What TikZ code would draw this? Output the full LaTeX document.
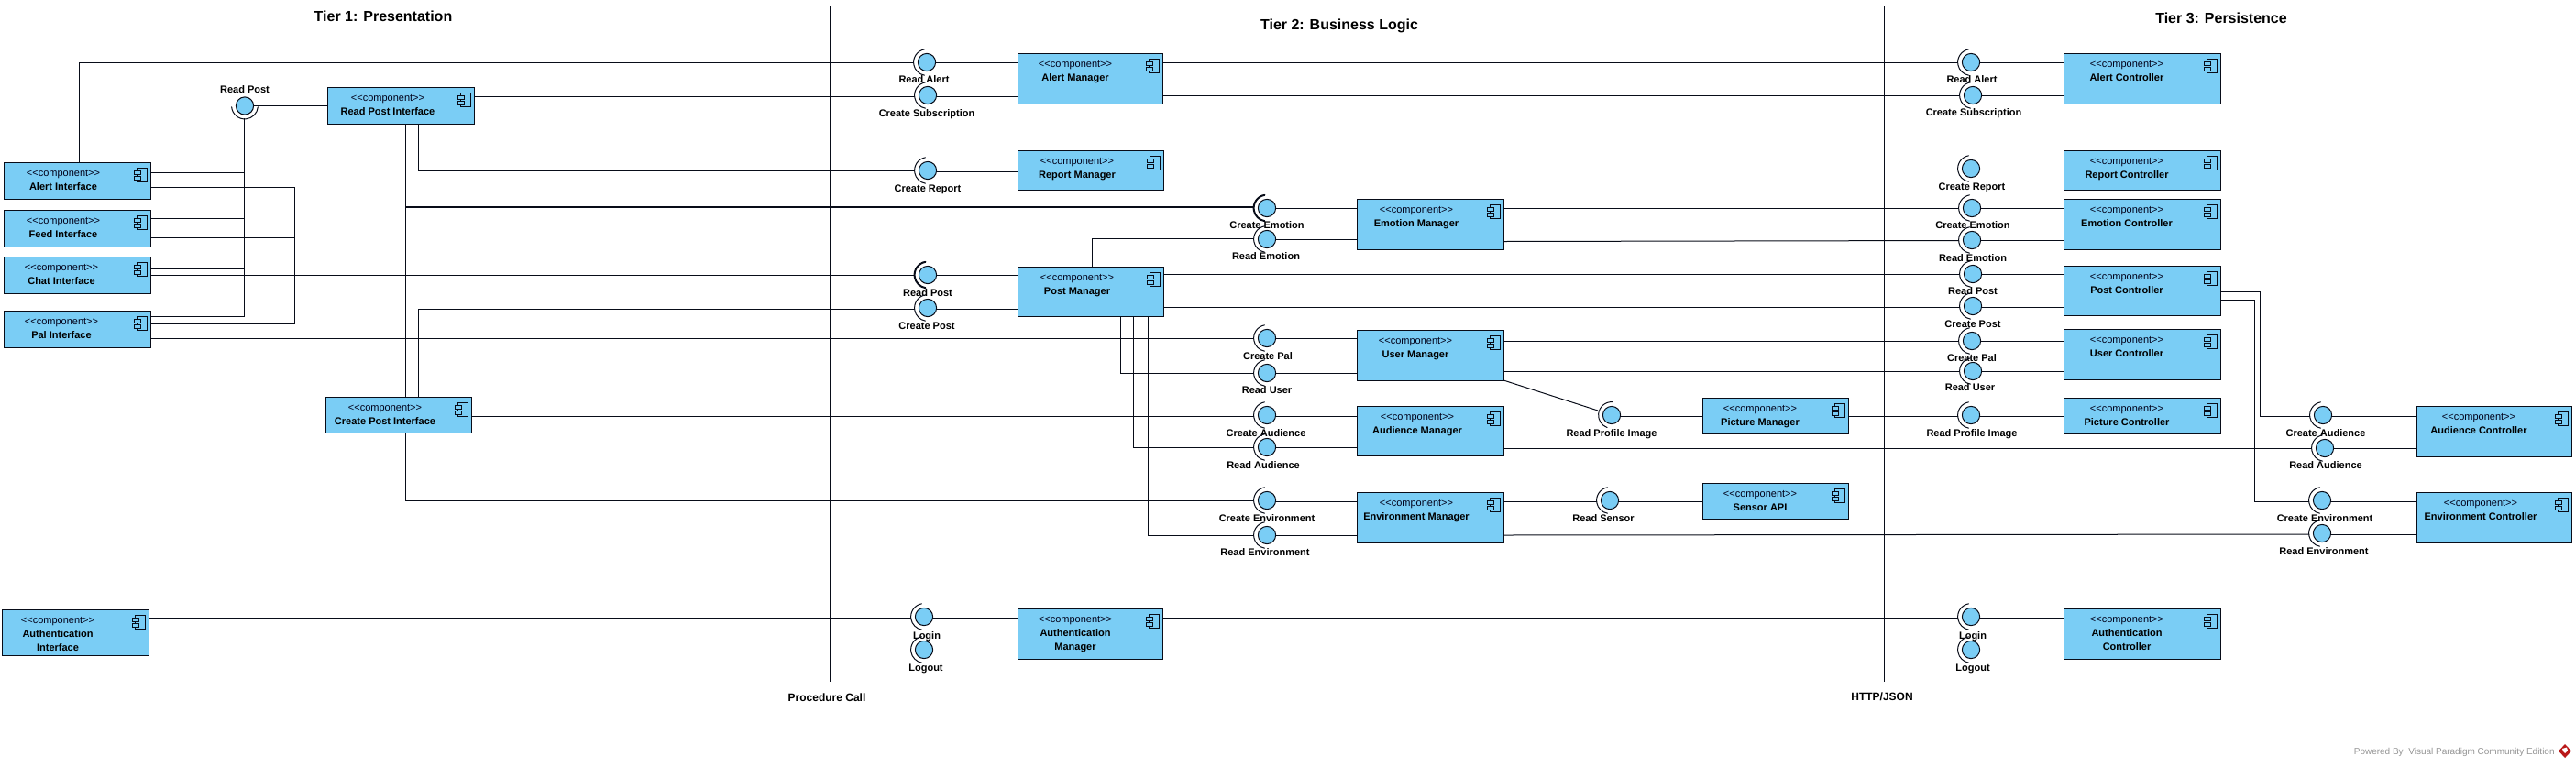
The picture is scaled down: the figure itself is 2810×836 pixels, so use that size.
\documentclass[tikz,border=0pt]{standalone}
\usepackage{fontspec}
\setmainfont{Liberation Sans}
\definecolor{compfill}{RGB}{122,205,245}
\definecolor{inkline}{RGB}{8,12,24}
\tikzset{
  x=0.5pt,y=-0.5pt,
  comp/.style={draw=inkline,line width=0.5pt,fill=compfill,rectangle,inner sep=0pt,outer sep=0pt,anchor=north west},
  iconpart/.style={draw=inkline,line width=0.4pt,fill=compfill},
  ball/.style={draw=inkline,line width=0.5pt,fill=compfill,circle,inner sep=0pt,outer sep=0pt,minimum size=9.6pt},
  sock/.style={draw=inkline,line width=0.5pt,line cap=round},
  sockheavy/.style={line width=1pt},
  cn/.style={draw=inkline,line width=0.5pt},
  thinline/.style={draw=inkline,line width=0.45pt},
  lbl/.style={font=\bfseries\fontsize{5.5}{6.6}\selectfont,text=black,inner sep=0pt,anchor=base,yshift=-2pt},
  stereo/.style={font=\fontsize{5.5}{6.6}\selectfont,text=black!90!blue,inner sep=0pt,anchor=base,yshift=-2pt},
  tier/.style={font=\bfseries\fontsize{8}{9.6}\selectfont,text=black,inner sep=0pt,anchor=base,yshift=-2.9pt},
  sep/.style={font=\bfseries\fontsize{6}{7.2}\selectfont,text=black,inner sep=0pt,anchor=base,yshift=-2.2pt},
}
% \compbox{name}{x1}{y1}{x2}{y2}{text x}{line 1}{line 2}
\newcommand{\compbox}[8]{%
  \pgfmathsetmacro{\bw}{(#4-#2)*0.5}\pgfmathsetmacro{\bh}{(#5-#3)*0.5}%
  \node[comp,minimum width=\bw pt,minimum height=\bh pt] (#1) at (#2,#3) {};
  \draw[iconpart] (#4-15,#3+6) rectangle (#4-4,#3+21);
  \draw[iconpart] (#4-18,#3+9) rectangle (#4-11,#3+13);
  \draw[iconpart] (#4-18,#3+15) rectangle (#4-11,#3+19);
  \node[stereo] (#1-st) at (#6,#3+11) {<{}<component>{}>};
  \node[lbl] (#1-nm) at (#6,#3+26) {#7};
  \ifx&#8&\else\node[lbl] (#1-n2) at (#6,#3+41) {#8};\fi
}
\newcommand{\socka}{100}\newcommand{\sockb}{260}
% \iface[socket style]{name}{x}{y}{label}{label x}{label y}
\newcommand{\iface}[7][]{%
  \node[ball] (#2) at (#3,#4) {};
  \draw[sock,#1] ([shift={(\socka:7.2pt)}]#2.center) arc[start angle=\socka,end angle=\sockb,radius=7.2pt];
  \coordinate (#2-s) at (#3-14,#4);
  \node[lbl] (#2-l) at (#6,#7) {#5};
}
\newcommand{\lk}[4]{\draw[cn] (#1 |- 0,#2) -- (#3 |- 0,#4);}
\begin{document}
\begin{tikzpicture}
\useasboundingbox (0,0) rectangle (2810,836);
% separators
\coordinate (s1a) at (905,7); \coordinate (s1b) at (905,744);
\coordinate (s2a) at (2055,7); \coordinate (s2b) at (2055,744);
\draw[thinline] (s1a) -- (s1b);
\draw[thinline] (s2a) -- (s2b);
% titles
\node[tier] (tt1) at (418,18) {Tier 1: Presentation};
\node[tier] (tt2) at (1461,27) {Tier 2: Business Logic};
\node[tier] (tt3) at (2423,20) {Tier 3: Persistence};
\node[sep] (pc) at (902,761) {Procedure Call};
\node[sep] (hj) at (2053,760) {HTTP/JSON};
% tier 1 components
\compbox{alert}{4}{177}{164}{217}{69}{Alert Interface}{}
\compbox{feed}{4}{229}{164}{269}{69}{Feed Interface}{}
\compbox{chat}{4}{280}{164}{320}{67}{Chat Interface}{}
\compbox{pal}{4}{339}{164}{379}{67}{Pal Interface}{}
\compbox{rpi}{357}{95}{517}{135}{423}{Read Post Interface}{}
\compbox{cpi}{355}{433}{514}{472}{420}{Create Post Interface}{}
\compbox{aui}{2}{665}{162}{715}{63}{Authentication}{Interface}
% tier 2 components
\compbox{amgr}{1110}{58}{1268}{113}{1173}{Alert Manager}{}
\compbox{rmgr}{1110}{164}{1269}{207}{1175}{Report Manager}{}
\compbox{emgr}{1480}{217}{1640}{272}{1545}{Emotion Manager}{}
\compbox{pmgr}{1110}{291}{1269}{345}{1175}{Post Manager}{}
\compbox{umgr}{1480}{360}{1640}{415}{1544}{User Manager}{}
\compbox{aumgr}{1480}{443}{1640}{497}{1546}{Audience Manager}{}
\compbox{envm}{1480}{537}{1640}{592}{1545}{Environment Manager}{}
\compbox{picm}{1857}{434}{2016}{473}{1920}{Picture Manager}{}
\compbox{sens}{1857}{527}{2016}{566}{1920}{Sensor API}{}
\compbox{athm}{1110}{664}{1268}{719}{1173}{Authentication}{Manager}
% tier 3 components
\compbox{actl}{2251}{58}{2422}{113}{2320}{Alert Controller}{}
\compbox{rctl}{2251}{164}{2422}{207}{2320}{Report Controller}{}
\compbox{ectl}{2251}{217}{2422}{272}{2320}{Emotion Controller}{}
\compbox{pctl}{2251}{290}{2422}{344}{2320}{Post Controller}{}
\compbox{uctl}{2251}{359}{2422}{414}{2320}{User Controller}{}
\compbox{pictl}{2251}{434}{2422}{473}{2320}{Picture Controller}{}
\compbox{auctl}{2636}{443}{2805}{498}{2704}{Audience Controller}{}
\compbox{enctl}{2636}{537}{2805}{592}{2706}{Environment Controller}{}
\compbox{athc}{2251}{664}{2422}{719}{2320}{Authentication}{Controller}
% interfaces tier 1
\renewcommand{\socka}{185}\renewcommand{\sockb}{355}
\iface{trp}{267}{115.5}{Read Post}{267}{97}
\coordinate (trp-s) at (266,129);
\renewcommand{\socka}{100}\renewcommand{\sockb}{260}
% interfaces tier 2
\iface{ara}{1011}{68}{Read Alert}{1008}{86}
\iface{acs}{1012}{104}{Create Subscription}{1011}{123}
\iface{acr}{1012}{186}{Create Report}{1012}{205}
\iface[sockheavy]{ace}{1382}{227}{Create Emotion}{1382}{245}
\iface{are}{1382}{261}{Read Emotion}{1381}{279}
\iface[sockheavy]{arp}{1012}{300}{Read Post}{1012}{319}
\iface{acp}{1012}{336}{Create Post}{1011}{355}
\iface{acpl}{1382}{369}{Create Pal}{1383}{388}
\iface{aru}{1382}{407}{Read User}{1382}{425}
\iface{acau}{1382}{453}{Create Audience}{1381}{472}
\iface{arau}{1382}{488}{Read Audience}{1378}{507}
\iface{acen}{1382}{546}{Create Environment}{1382}{565}
\iface{aren}{1382}{584}{Read Environment}{1380}{602}
\renewcommand{\socka}{85}\renewcommand{\sockb}{250}
\iface{arpi}{1758}{453}{Read Profile Image}{1758}{472}
\renewcommand{\socka}{100}\renewcommand{\sockb}{260}
\coordinate (arpi-d) at (1743,448);
\iface{ars}{1756}{546}{Read Sensor}{1749}{565}
\iface{alog}{1008}{673}{Login}{1011}{693}
\iface{alot}{1008}{709}{Logout}{1010}{728}
% interfaces tier 3
\iface{bra}{2150}{68}{Read Alert}{2151}{86}
\iface{bcs}{2152}{104}{Create Subscription}{2153}{122}
\iface{bcr}{2150}{184}{Create Report}{2151}{203}
\iface{bce}{2151}{227}{Create Emotion}{2152}{245}
\iface{bre}{2151}{262}{Read Emotion}{2152}{281}
\iface{brp}{2152}{299}{Read Post}{2152}{317}
\iface{bcp}{2152}{334}{Create Post}{2152}{353}
\iface{bcpl}{2151}{372}{Create Pal}{2151}{390}
\iface{bru}{2152}{405}{Read User}{2149}{422}
\iface{brpi}{2150}{453}{Read Profile Image}{2151}{472}
\iface{bcau}{2534}{453}{Create Audience}{2537}{472}
\iface{brau}{2536}{489}{Read Audience}{2537}{507}
\iface{bcen}{2533}{546}{Create Environment}{2536}{565}
\iface{bren}{2533}{582}{Read Environment}{2535}{601}
\iface{blog}{2150}{673}{Login}{2152}{693}
\iface{blot}{2150}{709}{Logout}{2152}{728}
% tier 1 internal connectors
\coordinate (jn) at (321,300);
\draw[cn] (alert.north -| 86,0) |- (ara-s |- 0,68.5);
\lk{trp.east}{115.5}{rpi.west}{115.5}
\lk{rpi.east}{105}{acs-s}{105}
\draw[cn] (rpi.south -| 456,0) |- (acr-s |- 0,186);
\draw[cn] (rpi.south -| 442,0) |- (ace-s |- 0,225.6);
\draw[cn] (cpi.north -| 442,0) |- (ace-s |- 0,226.6);
\draw[cn] (cpi.north -| 456,0) |- (acp-s |- 0,337);
\lk{cpi.east}{454}{acau-s}{454}
\draw[cn] (cpi.south -| 442,0) |- (acen-s |- 0,546);
\draw[cn] (alert.east |- 0,188) -| (trp-s);
\draw[cn] (feed.east |- 0,238) -| (trp-s);
\draw[cn] (chat.east |- 0,293) -| (trp-s);
\draw[cn] (pal.east |- 0,345) -| (trp-s);
\draw[cn] (alert.east |- 0,204) -| (jn);
\draw[cn] (feed.east |- 0,259) -| (jn);
\draw[cn] (pal.east |- 0,353) -| (jn);
\lk{chat.east}{300}{arp-s}{300}
\lk{pal.east}{369}{acpl-s}{369}
\lk{aui.east}{674}{alog-s}{674}
\lk{aui.east}{711}{alot-s}{711}
% tier 2 provided interfaces
\lk{ara.east}{68.5}{amgr.west}{68.5}
\lk{acs.east}{105}{amgr.west}{105}
\lk{acr.east}{187}{rmgr.west}{187}
\lk{ace.east}{227}{emgr.west}{227}
\lk{are.east}{261}{emgr.west}{261}
\lk{arp.east}{300}{pmgr.west}{300}
\lk{acp.east}{337}{pmgr.west}{337}
\lk{acpl.east}{369}{umgr.west}{369}
\lk{aru.east}{407}{umgr.west}{407}
\lk{acau.east}{454}{aumgr.west}{454}
\lk{arau.east}{488}{aumgr.west}{488}
\lk{acen.east}{547}{envm.west}{547}
\lk{aren.east}{584}{envm.west}{584}
\lk{alog.east}{674}{athm.west}{674}
\lk{alot.east}{711}{athm.west}{711}
\lk{arpi.east}{454}{picm.west}{454}
\lk{ars.east}{547}{sens.west}{547}
% post manager dependencies
\draw[cn] (pmgr.north -| 1191,0) |- (are-s |- 0,260);
\draw[cn] (pmgr.south -| 1222,0) |- (aru-s |- 0,407);
\draw[cn] (pmgr.south -| 1236,0) |- (arau-s |- 0,488);
\draw[cn] (pmgr.south -| 1252,0) |- (aren-s |- 0,584);
\draw[cn] (umgr.south east) -- (arpi-d);
\lk{envm.east}{547}{ars-s}{547}
% tier 2 to tier 3
\lk{amgr.east}{68.5}{bra-s}{68.5}
\lk{amgr.east}{104.5}{bcs-s}{104.5}
\lk{rmgr.east}{185}{bcr-s}{185}
\lk{emgr.east}{227}{bce-s}{227}
\lk{emgr.east}{263.5}{bre-s}{262.5}
\lk{pmgr.east}{299}{brp-s}{299}
\lk{pmgr.east}{335}{bcp-s}{335}
\lk{umgr.east}{372}{bcpl-s}{372}
\lk{umgr.east}{405}{bru-s}{405}
\lk{picm.east}{454}{brpi-s}{454}
\lk{aumgr.east}{489}{brau-s}{489}
\lk{envm.east}{584}{bren-s}{583}
\lk{athm.east}{674}{blog-s}{674}
\lk{athm.east}{711}{blot-s}{711}
% tier 3 provided interfaces
\lk{bra.east}{68.5}{actl.west}{68.5}
\lk{bcs.east}{104.5}{actl.west}{104.5}
\lk{bcr.east}{185}{rctl.west}{185}
\lk{bce.east}{227}{ectl.west}{227}
\lk{bre.east}{262.5}{ectl.west}{262.5}
\lk{brp.east}{299}{pctl.west}{299}
\lk{bcp.east}{335}{pctl.west}{335}
\lk{bcpl.east}{372}{uctl.west}{372}
\lk{bru.east}{405}{uctl.west}{405}
\lk{brpi.east}{454}{pictl.west}{454}
\lk{bcau.east}{454}{auctl.west}{454}
\lk{brau.east}{489}{auctl.west}{489}
\lk{bcen.east}{547}{enctl.west}{547}
\lk{bren.east}{583}{enctl.west}{583}
\lk{blog.east}{674}{athc.west}{674}
\lk{blot.east}{711}{athc.west}{711}
\draw[cn] (pctl.east |- 0,318) -- (2465,318) |- (bcau-s |- 0,454);
\draw[cn] (pctl.east |- 0,327) -- (2459,327) |- (bcen-s |- 0,547);
% watermark
\node[font=\fontsize{5}{6}\selectfont,text=black!42,inner sep=0pt,anchor=base east,yshift=-1.8pt] (wm) at (2787,820) {Powered By\ \ Visual Paradigm Community Edition};
\fill[red!70!black!90] (2798,812) -- (2805,819.5) -- (2798,827) -- (2791,819.5) -- cycle;
\fill[white] (2795,817) -- (2800,815.5) -- (2801,819) -- (2798,822) -- (2796,820) -- cycle;
\end{tikzpicture}
\end{document}
